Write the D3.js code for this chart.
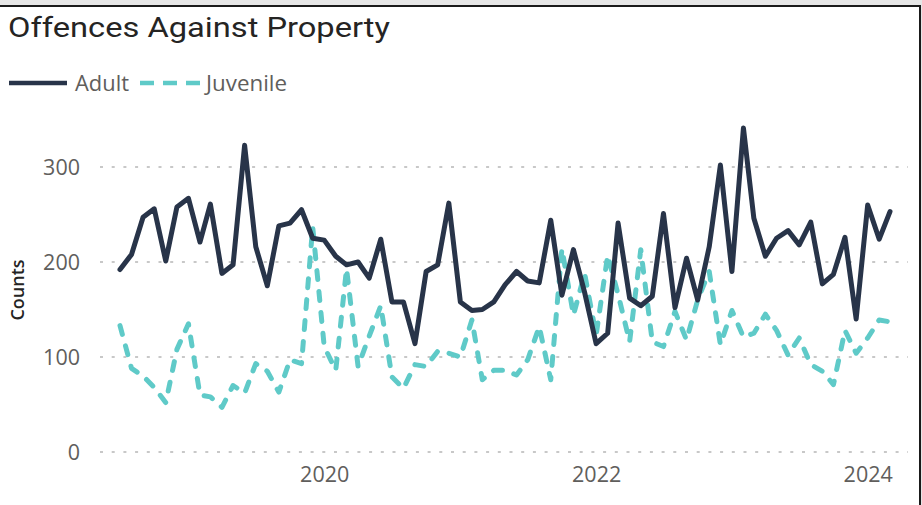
<!DOCTYPE html>
<html>
<head>
<meta charset="utf-8">
<script src="https://cdn.jsdelivr.net/npm/d3@7"></script>
<style>
  html, body { margin: 0; padding: 0; background: #ffffff; }
  svg { display: block; }
</style>
</head>
<body>
<svg id="chart" width="922" height="505"></svg>
<script>
// ---- Data (monthly, Jul 2018 – Mar 2024) ----
const months = [
  "2018-07","2018-08","2018-09","2018-10","2018-11","2018-12",
  "2019-01","2019-02","2019-03","2019-04","2019-05","2019-06","2019-07","2019-08","2019-09","2019-10","2019-11","2019-12",
  "2020-01","2020-02","2020-03","2020-04","2020-05","2020-06","2020-07","2020-08","2020-09","2020-10","2020-11","2020-12",
  "2021-01","2021-02","2021-03","2021-04","2021-05","2021-06","2021-07","2021-08","2021-09","2021-10","2021-11","2021-12",
  "2022-01","2022-02","2022-03","2022-04","2022-05","2022-06","2022-07","2022-08","2022-09","2022-10","2022-11","2022-12",
  "2023-01","2023-02","2023-03","2023-04","2023-05","2023-06","2023-07","2023-08","2023-09","2023-10","2023-11","2023-12",
  "2024-01","2024-02","2024-03"
];
const adult = [192,208,247,256,201,258,267,221,261,188,
               197,323,216,175,238,241,255,225,223,206,
               197,200,183,224,158,158,114,190,197,262,
               158,149,150,158,176,190,180,178,244,165,
               213,168,114,125,241,162,154,164,251,152,
               204,160,216,302,190,341,246,206,225,233,
               218,242,177,187,226,140,260,224,253];
const juvenile = [133,88,80,68,52,108,135,60,58,47,
                  70,62,93,85,63,97,93,237,111,86,
                  193,90,122,154,79,67,92,90,106,104,
                  100,139,76,86,86,81,97,132,76,214,
                  144,188,123,207,166,116,213,116,111,148,
                  118,160,190,113,149,121,125,145,128,102,
                  120,92,85,71,128,104,120,139,137];
const seriesNames = ["Adult", "Juvenile"];
const yTicks = [0, 100, 200, 300];
const xTickYears = ["2020", "2022", "2024"];
const titleText = "Offences Against Property";
const yAxisTitle = "Counts";

// ---- Setup ----
const svg = d3.select("#chart");
const parse = d3.timeParse("%Y-%m");
const dates = months.map(parse);
const colors = { Adult: "#283449", Juvenile: "#5FCAC8" };

const x = d3.scaleTime()
  .domain([dates[0], dates[dates.length - 1]])
  .range([120, 890]);
const y = d3.scaleLinear().domain([0, 300]).range([452, 167]);

// frame
svg.append("rect").attr("x", 0).attr("y", 0).attr("width", 922).attr("height", 505).attr("fill", "#ffffff");
svg.append("rect").attr("x", 0).attr("y", 0).attr("width", 922).attr("height", 5).attr("fill", "#E6E6E6");
svg.append("rect").attr("x", 921).attr("y", 0).attr("width", 1).attr("height", 505).attr("fill", "#E6E6E6");
svg.append("line").attr("x1", 0).attr("x2", 921).attr("y1", 6).attr("y2", 6)
  .attr("stroke", "#1a1a1a").attr("stroke-width", 2);
svg.append("line").attr("x1", 920).attr("x2", 920).attr("y1", 5).attr("y2", 505)
  .attr("stroke", "#1a1a1a").attr("stroke-width", 2);

function fitWidth(sel, w) {
  const n = sel.node();
  const cur = n.getComputedTextLength();
  const fs = parseFloat(sel.attr("font-size"));
  sel.attr("font-size", (fs * w / cur).toFixed(2));
}

// title
svg.append("text")
  .attr("x", 8).attr("y", 37)
  .attr("font-family", "Roboto, 'DejaVu Sans', sans-serif")
  .attr("font-size", 27)
  .attr("font-weight", 400)
  .attr("fill", "#252423")
  .attr("textLength", 382)
  .attr("lengthAdjust", "spacingAndGlyphs")
  .text(titleText);

// legend
const legendFont = "'Open Sans', 'Noto Sans', sans-serif";
svg.append("line").attr("x1", 9).attr("x2", 67).attr("y1", 83).attr("y2", 83)
  .attr("stroke", colors.Adult).attr("stroke-width", 4.5);
const lA = svg.append("text").attr("x", 75).attr("y", 91)
  .attr("font-family", legendFont).attr("font-size", 20).attr("fill", "#605E5C")
  .text(seriesNames[0]);
fitWidth(lA, 54);
svg.append("line").attr("x1", 140).attr("x2", 200).attr("y1", 83).attr("y2", 83)
  .attr("stroke", colors.Juvenile).attr("stroke-width", 4.5)
  .attr("stroke-dasharray", "14,9");
const lJ = svg.append("text").attr("x", 206).attr("y", 91)
  .attr("font-family", legendFont).attr("font-size", 20).attr("fill", "#605E5C")
  .text(seriesNames[1]);
fitWidth(lJ, 81);

// gridlines
svg.append("g").selectAll("line").data(yTicks).join("line")
  .attr("x1", 100).attr("x2", 908)
  .attr("y1", d => y(d)).attr("y2", d => y(d))
  .attr("stroke", "#C8C8C8").attr("stroke-width", 2)
  .attr("stroke-dasharray", "3,8.7");

// y axis labels
const yAxis = d3.axisLeft(y).tickValues(yTicks).tickSize(0).tickPadding(0);
const gy = svg.append("g").attr("transform", "translate(80,0)").call(yAxis);
gy.select(".domain").remove();
gy.selectAll("text")
  .attr("font-family", legendFont).attr("font-size", 21.5)
  .attr("fill", "#605E5C").attr("dy", "0.36em");

// x axis labels
const xAxis = d3.axisBottom(x)
  .tickValues(xTickYears.map(s => d3.timeParse("%Y")(s)))
  .tickFormat(d3.timeFormat("%Y"))
  .tickSize(0).tickPadding(0);
const gx = svg.append("g").attr("transform", "translate(0,482)").call(xAxis);
gx.select(".domain").remove();
gx.selectAll("text")
  .attr("font-family", legendFont).attr("font-size", 21.5)
  .attr("fill", "#605E5C").attr("dy", 0).attr("y", 0);

// y axis title
svg.append("text")
  .attr("transform", "translate(24,290) rotate(-90)")
  .attr("text-anchor", "middle")
  .attr("font-family", legendFont).attr("font-size", 18).attr("font-weight", 600)
  .attr("fill", "#252423")
  .text(yAxisTitle);

// lines
const line = d3.line().x((d, i) => x(dates[i])).y(d => y(d));
svg.append("path").datum(juvenile)
  .attr("d", line).attr("fill", "none")
  .attr("stroke", colors.Juvenile).attr("stroke-width", 5)
  .attr("stroke-linecap", "round").attr("stroke-linejoin", "round")
  .attr("stroke-dasharray", "9,12");
svg.append("path").datum(adult)
  .attr("d", line).attr("fill", "none")
  .attr("stroke", colors.Adult).attr("stroke-width", 5)
  .attr("stroke-linejoin", "round").attr("stroke-linecap", "round");
</script>
</body>
</html>
